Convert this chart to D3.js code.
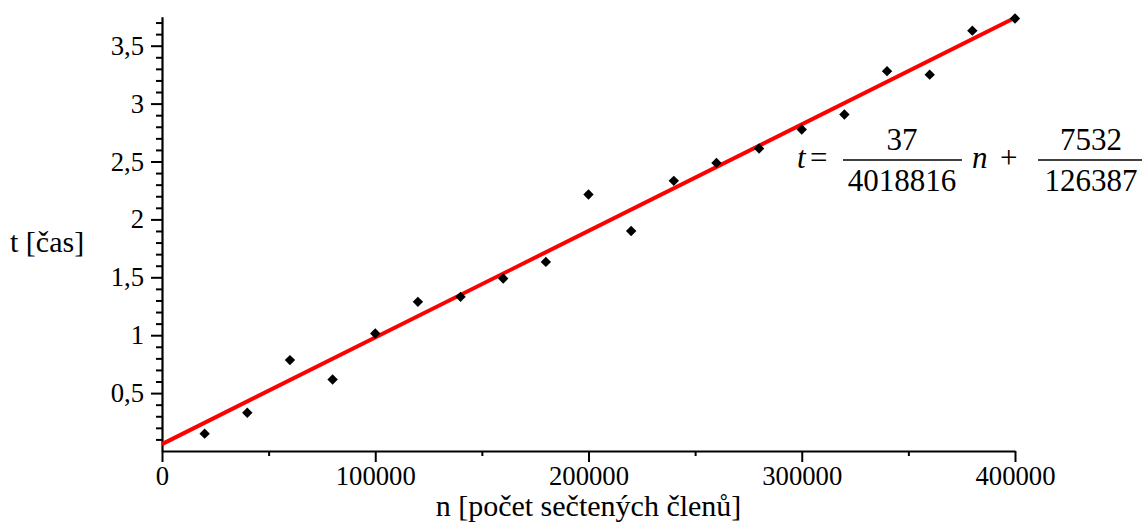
<!DOCTYPE html>
<html>
<head>
<meta charset="utf-8">
<script src="https://cdn.jsdelivr.net/npm/d3@7"></script>
<style>
  body { margin: 0; background: #fff; }
</style>
</head>
<body>
<svg width="1145" height="527"></svg>
<script>
// measured points: n (terms summed) vs t (time)
const nValues = [20000, 40000, 60000, 80000, 100000, 120000, 140000, 160000, 180000, 200000,
                 220000, 240000, 260000, 280000, 300000, 320000, 340000, 360000, 380000, 400000];
const tValues = [0.15, 0.33, 0.785, 0.617, 1.015, 1.288, 1.331, 1.49, 1.633, 2.215,
                 1.90, 2.333, 2.488, 2.612, 2.776, 2.906, 3.28, 3.25, 3.63, 3.735];

// fitted line end points (t = 37/4018816 n + 7532/126387)
const fitN = [0, 400000];
const fitT = [0.0596, 3.742];

const xMajor = [0, 100000, 200000, 300000, 400000];
const xMinor = [50000, 150000, 250000, 350000];
const yMajor = [0.5, 1, 1.5, 2, 2.5, 3, 3.5];
const yLabels = ["0,5", "1", "1,5", "2", "2,5", "3", "3,5"];
const yMinor = d3.range(1, 38).map(d => d / 10).filter(d => Math.round(d * 10) % 5 !== 0);

const FONT = "'Liberation Serif'";

const svg = d3.select("svg");

const x = d3.scaleLinear().domain([0, 400000]).range([162, 1015]);
const y = d3.scaleLinear().domain([0, 3.75]).range([451, 16.75]);

// x axis
svg.append("g")
    .attr("transform", `translate(0,${y(0)})`)
    .call(d3.axisBottom(x).tickValues(xMinor).tickSize(5).tickFormat(""))
    .call(g => g.select(".domain").remove());

const xAxis = svg.append("g")
    .attr("transform", `translate(0,${y(0)})`)
    .call(d3.axisBottom(x).tickValues(xMajor).tickSize(11).tickSizeOuter(0).tickPadding(4).tickFormat(d3.format("d")));

// y axis
svg.append("g")
    .attr("transform", `translate(${x(0)},0)`)
    .call(d3.axisLeft(y).tickValues(yMinor).tickSize(6).tickFormat(""))
    .call(g => g.select(".domain").remove());

const yAxis = svg.append("g")
    .attr("transform", `translate(${x(0)},0)`)
    .call(d3.axisLeft(y).tickValues(yMajor).tickSize(11).tickSizeOuter(0).tickPadding(7)
        .tickFormat((d, i) => yLabels[i]));

svg.selectAll(".tick text")
    .attr("font-family", FONT)
    .attr("font-size", 26.7)
    .attr("fill", "#000");

svg.selectAll(".domain").attr("stroke-width", 2.2);
svg.selectAll(".tick line").attr("stroke-width", 2);

// axis titles
svg.append("text")
    .attr("x", (x.range()[0] + x.range()[1]) / 2)
    .attr("y", 516)
    .attr("text-anchor", "middle")
    .attr("font-family", FONT)
    .attr("font-size", 30)
    .text("n [počet sečtených členů]");

svg.append("text")
    .attr("x", 10)
    .attr("y", 252)
    .attr("font-family", FONT)
    .attr("font-size", 30)
    .text("t [čas]");

// fitted line
svg.append("line")
    .attr("x1", x(fitN[0])).attr("y1", y(fitT[0]))
    .attr("x2", x(fitN[1])).attr("y2", y(fitT[1]))
    .attr("stroke", "#ff0000")
    .attr("stroke-width", 4);

// points
const diamond = d3.symbol().type(d3.symbolSquare).size(54);
svg.selectAll(".pt")
    .data(nValues)
    .enter().append("path")
    .attr("class", "pt")
    .attr("d", diamond)
    .attr("transform", (d, i) => `translate(${x(d)},${y(tValues[i])}) rotate(45)`)
    .attr("fill", "#000");

// equation
const eq = svg.append("g");
function eqText(px, py, str, anchor, italic) {
    eq.append("text")
        .attr("x", px).attr("y", py)
        .attr("text-anchor", anchor || "start")
        .attr("font-family", FONT)
        .attr("font-size", 31)
        .attr("font-style", italic ? "italic" : "normal")
        .text(str);
}
eqText(797, 168, "t", "start", true);
eqText(810, 168, "=");
eq.append("line").attr("x1", 843).attr("x2", 962).attr("y1", 160).attr("y2", 160)
    .attr("stroke", "#000").attr("stroke-width", 1.6);
eqText(902, 150, "37", "middle");
eqText(902, 191, "4018816", "middle");
eqText(972, 168, "n", "start", true);
eqText(1000, 168, "+");
eq.append("line").attr("x1", 1038).attr("x2", 1142).attr("y1", 160).attr("y2", 160)
    .attr("stroke", "#000").attr("stroke-width", 1.6);
eqText(1091, 150, "7532", "middle");
eqText(1091, 191, "126387", "middle");
</script>
</body>
</html>
